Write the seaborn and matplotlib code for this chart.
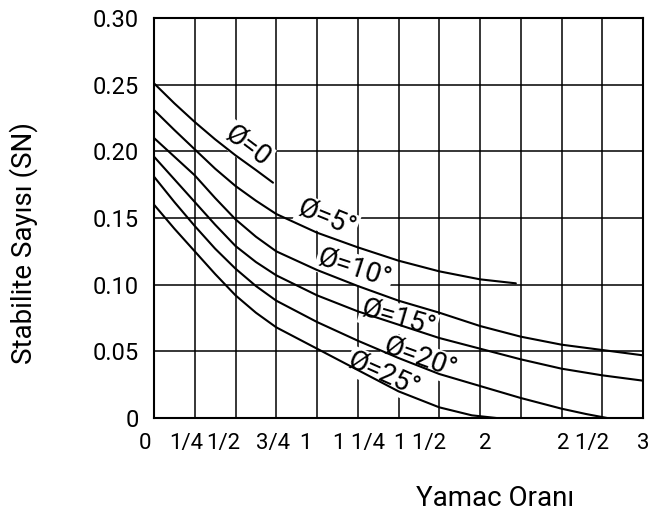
import numpy as np
import pandas as pd
import matplotlib
matplotlib.use("Agg")
import matplotlib.pyplot as plt
from matplotlib import font_manager
import seaborn as sns

# ---------------- data ----------------
slope_0 = [0.0, 0.125, 0.25, 0.375, 0.5, 0.625, 0.73]
sn_0 = [0.251, 0.236, 0.222, 0.209, 0.197, 0.186, 0.1765]

slope_5 = [0.0, 0.125, 0.25, 0.375, 0.5, 0.625, 0.75, 1.0, 1.25, 1.5, 1.75, 2.0, 2.22]
sn_5 = [0.231, 0.216, 0.2015, 0.187, 0.174, 0.163, 0.153, 0.139, 0.128, 0.118, 0.110, 0.104, 0.101]

slope_10 = [0.0, 0.125, 0.25, 0.375, 0.5, 0.625, 0.75, 1.0, 1.25, 1.5, 1.75, 2.0, 2.25, 2.5, 2.75, 3.0]
sn_10 = [0.210, 0.196, 0.182, 0.165, 0.149, 0.136, 0.125, 0.111, 0.099, 0.088, 0.079, 0.069, 0.061, 0.055, 0.051, 0.047]

slope_15 = [0.0, 0.125, 0.25, 0.375, 0.5, 0.625, 0.75, 1.0, 1.25, 1.5, 1.75, 2.0, 2.25, 2.5, 2.75, 3.0]
sn_15 = [0.196, 0.179, 0.162, 0.145, 0.129, 0.117, 0.107, 0.092, 0.080, 0.070, 0.060, 0.052, 0.044, 0.037, 0.032, 0.028]

slope_20 = [0.0, 0.125, 0.25, 0.375, 0.5, 0.625, 0.75, 1.0, 1.25, 1.5, 1.75, 2.0, 2.25, 2.5, 2.65, 2.78]
sn_20 = [0.181, 0.162, 0.144, 0.127, 0.112, 0.099, 0.088, 0.072, 0.058, 0.045, 0.033, 0.024, 0.015, 0.007, 0.003, 0.0]

slope_25 = [0.0, 0.125, 0.25, 0.375, 0.5, 0.625, 0.75, 1.0, 1.25, 1.5, 1.75, 1.95, 2.1]
sn_25 = [0.160, 0.142, 0.125, 0.108, 0.092, 0.079, 0.068, 0.052, 0.036, 0.020, 0.008, 0.002, 0.0]

curve_names = ["Ø=0", "Ø=5°", "Ø=10°", "Ø=15°", "Ø=20°", "Ø=25°"]

grid_x = [0, 0.25, 0.5, 0.75, 1.0, 1.25, 1.5, 1.75, 2.0, 2.25, 2.5, 2.75, 3.0]
x_labels = ["0", "1/4", "1/2", "3/4", "1", "1 1/4", "1 1/2", "2", "2 1/2", "3"]
x_label_pos = [-0.055, 0.196, 0.425, 0.73, 0.93, 1.26, 1.63, 2.03, 2.63, 3.0]
y_tick_values = [0, 0.05, 0.10, 0.15, 0.20, 0.25, 0.30]
y_tick_labels = ["0", "0.05", "0.10", "0.15", "0.20", "0.25", "0.30"]

# label anchor (x, y) and rotation for each curve label
label_x = [0.57, 1.06, 1.23, 1.50, 1.63, 1.41]
label_y = [0.2035, 0.1495, 0.112, 0.0745, 0.045, 0.0325]
label_rot = [-37, -22, -18, -16, -20, -24]

# ---------------- build long table ----------------
frames = []
for name, xs, ys in zip(curve_names,
                        [slope_0, slope_5, slope_10, slope_15, slope_20, slope_25],
                        [sn_0, sn_5, sn_10, sn_15, sn_20, sn_25]):
    frames.append(pd.DataFrame({"slope": xs, "sn": ys, "phi": name}))
df = pd.concat(frames, ignore_index=True)

# ---------------- font choice ----------------
names = {fe.name for fe in font_manager.fontManager.ttflist}
family = "Roboto" if "Roboto" in names else "DejaVu Sans"

# ---------------- plotting ----------------
sns.set_theme(style="white")
plt.rcParams["font.family"] = [family, "DejaVu Sans"]
plt.rcParams["text.color"] = "black"

fig = plt.figure(figsize=(6.51, 5.13), dpi=100)
ax = fig.add_axes([154 / 651, 95 / 513, 489 / 651, 400 / 513])

sns.lineplot(data=df, x="slope", y="sn", hue="phi", units="phi", estimator=None,
             palette=["black"] * len(curve_names), legend=False, linewidth=1.5,
             ax=ax, zorder=3, sort=True)

ax.set_xlim(0, 3)
ax.set_ylim(0, 0.30)
ax.set_xticks(grid_x)
ax.set_xticklabels([""] * len(grid_x))
ax.set_yticks(y_tick_values)
ax.set_yticklabels(y_tick_labels)
ax.tick_params(axis="both", length=0, labelsize=17, colors="black")
ax.tick_params(axis="y", pad=11)
ax.grid(True, color="black", linewidth=1.1)
ax.set_axisbelow(True)
for sp in ax.spines.values():
    sp.set_color("black")
    sp.set_linewidth(1.5)
ax.set_xlabel("")
ax.set_ylabel("")

for lab, xp in zip(x_labels, x_label_pos):
    ax.text(xp, -0.064, lab, transform=ax.get_xaxis_transform(), fontsize=16,
            ha="center", va="center", clip_on=False)

for name, lx, ly, rot in zip(curve_names, label_x, label_y, label_rot):
    ax.text(lx, ly, name, fontsize=20, rotation=rot, rotation_mode="anchor",
            ha="center", va="center", zorder=2,
            bbox=dict(facecolor="white", edgecolor="none", pad=1.0))

fig.text(495 / 651, 1 - 498 / 513, "Yamac Oranı", fontsize=20, ha="center", va="center")
fig.text(24 / 651, 1 - 243 / 513, "Stabilite Sayısı (SN)", fontsize=20,
         rotation=90, ha="center", va="center")

fig.savefig("out.png", dpi=100, facecolor="white")
